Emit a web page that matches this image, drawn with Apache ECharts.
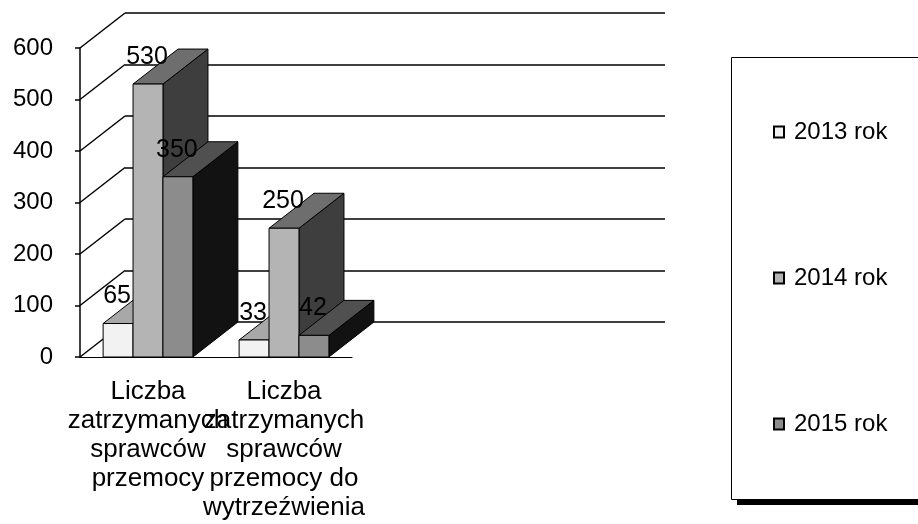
<!DOCTYPE html>
<html>
<head>
<meta charset="utf-8">
<script src="https://cdn.jsdelivr.net/npm/echarts@6/dist/echarts.min.js"></script>
<style>
  html, body { margin: 0; padding: 0; background: #fff; }
  #chart { width: 918px; height: 524px; }
</style>
</head>
<body>
<div id="chart"></div>
<script>
var categories = ['Liczba\nzatrzymanych\nsprawców\nprzemocy', 'Liczba\nzatrzymanych\nsprawców\nprzemocy do\nwytrzeźwienia'];
var years = ['2013 rok', '2014 rok', '2015 rok'];
var values2013 = [65, 33];
var values2014 = [530, 250];
var values2015 = [350, 42];
var yTicks = [0, 100, 200, 300, 400, 500, 600];

// 3d look: depth offset of the back wall
var DX = 45, DY = 35;
var FONT = '"Liberation Sans", Arial, sans-serif';

// front / top / side shades per year
var faces = [
    {front: '#f2f2f2', top: '#a8a8a8', side: '#7a7a7a'},
    {front: '#b4b4b4', top: '#6e6e6e', side: '#3e3e3e'},
    {front: '#8c8c8c', top: '#505050', side: '#121212'}
];

var chartDom = document.getElementById('chart');
var myChart = echarts.init(chartDom);

function barRenderer(s) {
    return function (params, api) {
        var band = api.size([1, 0])[0];
        var w = band * 0.22;
        var base = api.coord([api.value(0), 0]);
        var top = api.coord([api.value(0), api.value(1)]);
        var x0 = base[0] + (s - 1.5) * w;
        var ty = top[1], by = base[1];
        var f = faces[s];
        var st = {stroke: '#000', lineWidth: 1};
        return {
            type: 'group',
            children: [
                {type: 'polygon', shape: {points: [[x0 + w, ty], [x0 + w + DX, ty - DY], [x0 + w + DX, by - DY], [x0 + w, by]]},
                    style: Object.assign({fill: f.side}, st)},
                {type: 'polygon', shape: {points: [[x0, ty], [x0 + w, ty], [x0 + w + DX, ty - DY], [x0 + DX, ty - DY]]},
                    style: Object.assign({fill: f.top}, st)},
                {type: 'rect', shape: {x: x0, y: ty, width: w, height: by - ty},
                    style: Object.assign({fill: f.front}, st)},
                {type: 'text', z2: 10, style: {text: String(api.value(1)), x: x0 + w / 2 - 1, y: ty - 27,
                    align: 'center', verticalAlign: 'middle', fontSize: 25, fontFamily: FONT, fill: '#000'}}
            ]
        };
    };
}

var seriesValues = [values2013, values2014, values2015];
var barSeries = seriesValues.map(function (vals, s) {
    return {
        name: years[s],
        type: 'custom',
        xAxisIndex: 0,
        yAxisIndex: 0,
        z: 3,
        itemStyle: {color: faces[s].front, borderColor: '#000', borderWidth: 1},
        renderItem: barRenderer(s),
        data: vals.map(function (v, i) { return [i, v]; })
    };
});

var option = {
    animation: false,
    backgroundColor: '#fff',
    graphic: [
        // legend frame with its heavy bottom shadow
        {type: 'rect', left: 731, top: 57, z: 0, shape: {width: 260, height: 442},
            style: {fill: '#fff', stroke: '#000', lineWidth: 1}},
        {type: 'rect', left: 737, top: 499, z: 0, shape: {width: 200, height: 6},
            style: {fill: '#000'}}
    ],
    legend: {
        data: years,
        orient: 'vertical',
        left: 731,
        top: 57,
        padding: [63, 20, 62, 42],
        itemGap: 122,
        itemWidth: 10,
        itemHeight: 11,
        icon: 'rect',
        textStyle: {fontSize: 24, lineHeight: 24, fontFamily: FONT, color: '#000', padding: [0, 0, 0, 5]}
    },
    grid: [
        {left: 80, top: 48, width: 272, height: 309, outerBoundsMode: 'none'},
        {left: 80 + DX, top: 48 - DY, width: 540, height: 309, outerBoundsMode: 'none'}
    ],
    xAxis: [
        {
            type: 'category',
            gridIndex: 0,
            data: categories,
            axisLine: {lineStyle: {color: '#000', width: 1}},
            axisTick: {show: false},
            axisLabel: {interval: 0, color: '#000', fontSize: 26, lineHeight: 29, fontFamily: FONT, margin: 20, align: 'center'}
        },
        {type: 'value', gridIndex: 1, show: false, min: 0, max: 1}
    ],
    yAxis: [
        {
            type: 'value',
            gridIndex: 0,
            min: 0,
            max: 600,
            interval: 100,
            axisLine: {show: true, lineStyle: {color: '#000', width: 1.5}},
            axisTick: {show: true, length: 5, lineStyle: {color: '#000', width: 1.5}},
            axisLabel: {color: '#000', fontSize: 24, fontFamily: FONT, margin: 27},
            splitLine: {show: false}
        },
        {
            type: 'value',
            gridIndex: 1,
            min: 0,
            max: 600,
            interval: 100,
            axisLine: {show: false},
            axisTick: {show: false},
            axisLabel: {show: false},
            splitLine: {show: true, lineStyle: {color: '#000', width: 1.5}}
        }
    ],
    series: [
        {
            name: 'side wall',
            type: 'custom',
            xAxisIndex: 0,
            yAxisIndex: 0,
            z: 1,
            silent: true,
            renderItem: function (params, api) {
                var cs = params.coordSys;
                var y = api.coord([0, api.value(1)])[1];
                return {type: 'line', shape: {x1: cs.x, y1: y, x2: cs.x + DX, y2: y - DY},
                    style: {stroke: '#000', lineWidth: 1.5}};
            },
            data: yTicks.map(function (v) { return [0, v]; })
        }
    ].concat(barSeries)
};

option && myChart.setOption(option);
window.addEventListener('resize', myChart.resize);
</script>
</body>
</html>
